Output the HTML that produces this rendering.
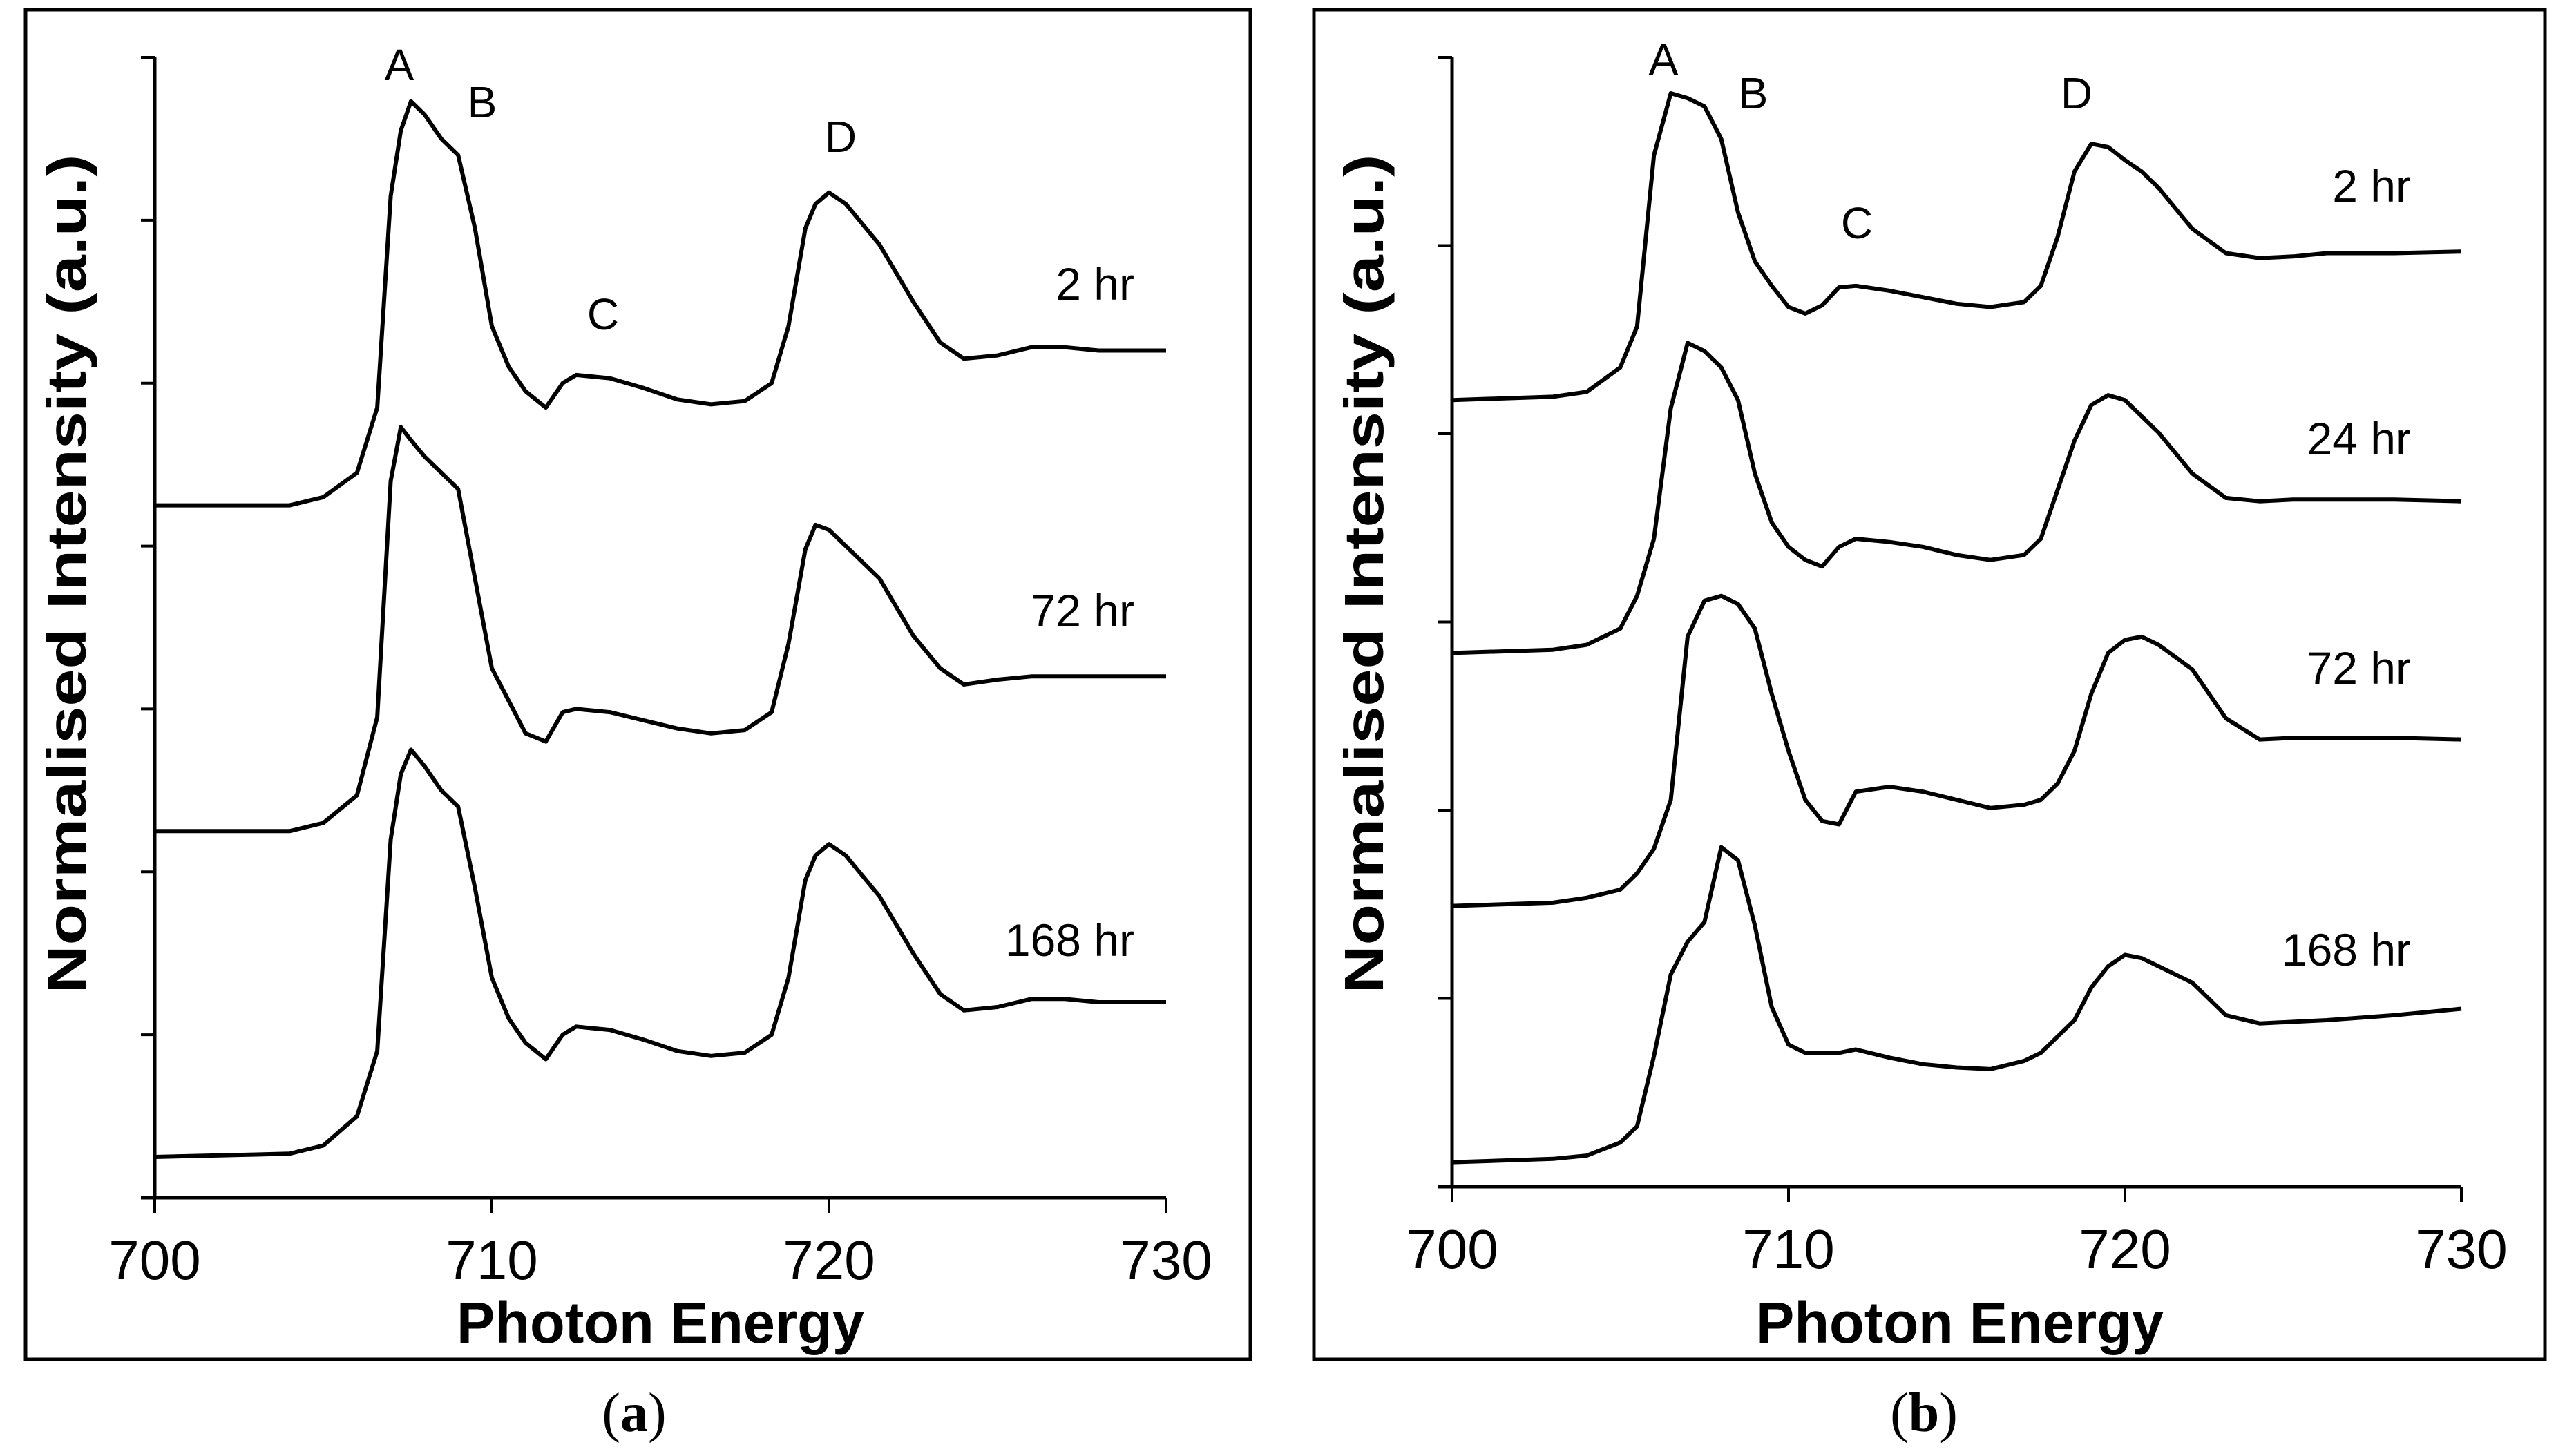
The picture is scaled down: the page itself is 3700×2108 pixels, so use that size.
<!DOCTYPE html>
<html><head><meta charset="utf-8"><style>
html,body{margin:0;padding:0;background:#fff;}
svg{display:block;}
text{font-family:"Liberation Sans",sans-serif;fill:#000;}
</style></head><body>
<svg id="fig" width="3700" height="2108" viewBox="0 0 3700 2108" xmlns="http://www.w3.org/2000/svg">
<rect x="37" y="14" width="1773" height="1954" fill="none" stroke="#000" stroke-width="5"/>
<rect x="1902" y="14" width="1782" height="1954" fill="none" stroke="#000" stroke-width="5"/>
<text x="918" y="2072" font-size="80" text-anchor="middle" style="font-family:'Liberation Serif',serif">(<tspan font-weight="bold">a</tspan>)</text>
<text x="2785" y="2072" font-size="80" text-anchor="middle" style="font-family:'Liberation Serif',serif">(<tspan font-weight="bold">b</tspan>)</text>
</svg>
<script>
// Panel a data
const energiesA = [700,704,705,706,706.6,707,707.3,707.6,708,708.5,709,709.5,710,710.5,711,711.6,712.1,712.5,713.5,714.5,715.5,716.5,717.5,718.3,718.8,719.3,719.6,720,720.5,721.5,722.5,723.3,724,725,726,727,728,730];
const a2hr = [425,425,430,445,485,615,655,673,665,650,640,595,535,510,495,485,500,505,503,497,490,487,489,500,535,595,610,617,610,585,550,525,515,517,522,522,520,520];
const a72hr = [225,225,230,247,295,440,473,465,455,445,435,380,325,305,285,280,298,300,298,293,288,285,287,298,340,398,413,410,400,380,345,325,315,318,320,320,320,320];
const a168hr = [25,27,32,50,90,220,260,275,265,250,240,190,135,110,95,85,100,105,103,97,90,87,89,100,135,195,210,217,210,185,150,125,115,117,122,122,120,120];
const seriesLabelsA = ["2 hr","72 hr","168 hr"];
// Panel b data
const energiesB = [700,703,704,705,705.5,706,706.5,707,707.5,708,708.5,709,709.5,710,710.5,711,711.5,712,713,714,715,716,717,717.5,718,718.5,719,719.5,720,720.5,721,722,723,724,725,726,728,730];
const b2hr = [482,484,487,502,527,632,670,667,662,642,597,567,552,539,535,540,551,552,549,545,541,539,542,552,582,622,639,637,629,622,612,587,572,569,570,572,572,573];
const b24hr = [327,329,332,342,362,397,477,517,512,502,482,437,407,392,384,380,392,397,395,392,387,384,387,397,427,457,479,485,482,472,462,437,422,420,421,421,421,420];
const b72hr = [172,174,177,182,192,207,237,337,359,362,357,342,302,267,237,224,222,242,245,242,237,232,234,237,247,267,302,327,335,337,332,317,287,274,275,275,275,274];
const b168hr = [15,17,19,27,37,80,130,150,162,208,200,160,110,87,82,82,82,84,79,75,73,72,77,82,92,102,122,135,142,140,135,125,105,100,101,102,105,109];
const seriesLabelsB = ["2 hr","24 hr","72 hr","168 hr"];
const xTicks = [700,710,720,730];
const peakLabels = ["A","B","C","D"];

const NS="http://www.w3.org/2000/svg";
const svg=document.getElementById('fig');
function mk(tag,attrs,parent){const e=document.createElementNS(NS,tag);for(const k in attrs)e.setAttribute(k,attrs[k]);(parent||svg).appendChild(e);return e;}

function panel(p){
  const g=mk('g',{});
  
  
  const sx=v=>p.x0+(v-700)/30*(p.x1-p.x0);
  const sy=v=>p.yb-v/p.ymax*(p.yb-p.yt);
  const ya=mk('line',{x1:p.x0,y1:p.yt,x2:p.x0,y2:p.yb,stroke:'#000','stroke-width':5},g);
  
  
  const xa=mk('line',{x1:p.x0-20,y1:p.yb,x2:p.x1,y2:p.yb,stroke:'#000','stroke-width':5},g);
  
  
  for(let i=0;i<=p.nTicks;i++){
    const y=sy(i*p.ymax/p.nTicks);
    const t=mk('line',{x1:p.x0-20,y1:y,x2:p.x0,y2:y,stroke:'#000','stroke-width':4},g);
    
    
  }
  xTicks.forEach(v=>{
    const x=sx(v);
    const t=mk('line',{x1:x,y1:p.yb,x2:x,y2:p.yb+22,stroke:'#000','stroke-width':4},g);
    
    
    const l=mk('text',{x:x,y:p.yb+118,'font-size':80,'text-anchor':'middle'},g);
    l.textContent=v;
    
    
  });
  const xt=mk('text',{x:p.xtX,y:1944,'font-size':84,'font-weight':'bold','text-anchor':'middle',textLength:590,lengthAdjust:'spacingAndGlyphs'},g);
  xt.textContent='Photon Energy';
  
  
  const yt=mk('text',{x:0,y:0,'font-size':80,'font-weight':'bold','text-anchor':'middle',textLength:1215,lengthAdjust:'spacingAndGlyphs',transform:`translate(${p.x0-100},831) rotate(-90)`},g);
  yt.textContent='Normalised Intensity (a.u.)';
  
  
  p.series.forEach((s,i)=>{
    const d=p.energies.map((e,j)=>(j?'L':'M')+sx(e).toFixed(1)+' '+sy(s[j]).toFixed(1)).join(' ');
    const path=mk('path',{d:d,fill:'none',stroke:'#000','stroke-width':6,'stroke-linejoin':'round'},g);
    
    
    const lab=mk('text',{x:p.labelX,y:p.labelY[i],'font-size':66,'text-anchor':'end'},g);
    lab.textContent=p.labels[i];
    
    
  });
  peakLabels.forEach((t,i)=>{
    const l=mk('text',{x:p.peaks[i][0],y:p.peaks[i][1],'font-size':64,'text-anchor':'middle'},g);
    l.textContent=t;
    
    
  });
}
panel({name:'panel-a',x0:224,x1:1688,yt:83,yb:1734,ymax:700,nTicks:7,energies:energiesA,xtX:956,
  series:[a2hr,a72hr,a168hr],labels:seriesLabelsA,labelX:1642,labelY:[434,907,1384],
  peaks:[[578,116],[698,170],[873,477],[1217,220]]});
panel({name:'panel-b',x0:2102,x1:3563,yt:83,yb:1718,ymax:692,nTicks:6,energies:energiesB,xtX:2837,
  series:[b2hr,b24hr,b72hr,b168hr],labels:seriesLabelsB,labelX:3490,labelY:[292,658,990,1398],
  peaks:[[2408,108],[2538,157],[2688,345],[3006,157]]});
</script>
</body></html>
